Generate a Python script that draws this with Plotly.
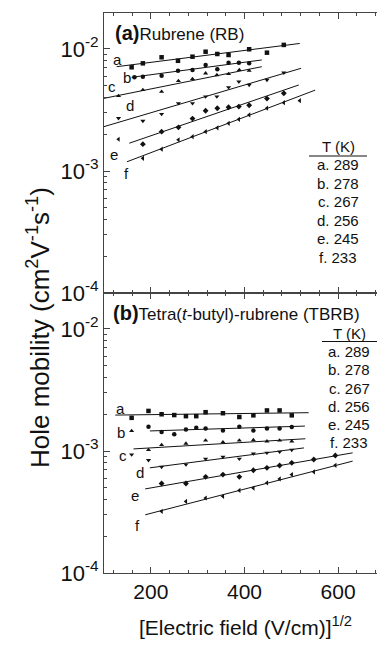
import plotly.graph_objects as go

# ---------------- data ----------------
# Panel (a) Rubrene (RB)
rb_a_x = [159, 183, 223, 258, 289, 317, 342, 366, 410, 448, 484]
rb_a_y = [7.08e-3, 7.63e-3, 8.55e-3, 8.0e-3, 8.65e-3, 9.5e-3, 9.1e-3, 8.93e-3, 9.95e-3, 9.33e-3, 1.08e-2]
rb_b_x = [165, 183, 223, 258, 289, 317, 342, 366, 388, 410]
rb_b_y = [5.86e-3, 5.93e-3, 6.04e-3, 6.64e-3, 6.73e-3, 7.4e-3, 6.82e-3, 7.73e-3, 7.73e-3, 7.64e-3]
rb_c_x = [131, 183, 223, 259, 289, 317, 341, 366, 389, 410]
rb_c_y = [4.12e-3, 4.62e-3, 4.47e-3, 5.47e-3, 5.68e-3, 6.32e-3, 6.12e-3, 6.24e-3, 6.73e-3, 6.64e-3]
rb_d_x = [131, 183, 223, 259, 289, 317, 341, 366, 388, 410, 448, 484]
rb_d_y = [2.71e-3, 2.57e-3, 2.93e-3, 3.59e-3, 3.59e-3, 4.07e-3, 4.07e-3, 4.85e-3, 5.4e-3, 5.07e-3, 5.57e-3, 6.39e-3]
rb_e_x = [183, 223, 259, 289, 317, 342, 366, 388, 410, 448, 484]
rb_e_y = [1.66e-3, 2.1e-3, 2.28e-3, 2.69e-3, 3.12e-3, 3.27e-3, 3.33e-3, 3.37e-3, 3.46e-3, 3.92e-3, 4.34e-3]
rb_f_x = [131, 183, 223, 259, 289, 317, 342, 366, 388, 410, 448, 484, 518]
rb_f_y = [1.82e-3, 1.27e-3, 1.51e-3, 1.80e-3, 1.91e-3, 2.10e-3, 2.26e-3, 2.46e-3, 2.65e-3, 2.88e-3, 3.27e-3, 3.63e-3, 3.77e-3]

# fitted lines (endpoints)
rb_fit_x = [[127, 518], [159, 437], [100, 437], [100, 521], [154, 516], [149, 551]]
rb_fit_y = [[7.16e-3, 1.11e-2], [5.86e-3, 8.13e-3], [3.94e-3, 7.16e-3], [2.31e-3, 6.95e-3], [1.69e-3, 5.07e-3], [1.19e-3, 4.60e-3]]

# Panel (b) Tetra(t-butyl)-rubrene (TBRB)
tb_a_x = [159, 195, 223, 250, 275, 297, 317, 354, 389, 419, 448, 475, 501]
tb_a_y = [1.87e-3, 2.13e-3, 2.0e-3, 1.97e-3, 1.93e-3, 1.93e-3, 2.08e-3, 2.04e-3, 1.90e-3, 1.96e-3, 2.15e-3, 2.15e-3, 1.96e-3]
tb_b_x = [195, 223, 250, 275, 297, 317, 354, 389, 419, 448, 475, 501]
tb_b_y = [1.58e-3, 1.43e-3, 1.37e-3, 1.50e-3, 1.55e-3, 1.53e-3, 1.47e-3, 1.58e-3, 1.47e-3, 1.53e-3, 1.53e-3, 1.57e-3]
tb_c_x = [159, 195, 223, 275, 317, 354, 389, 419, 448, 475, 501]
tb_c_y = [1.46e-3, 1.02e-3, 1.12e-3, 1.15e-3, 1.22e-3, 1.18e-3, 1.22e-3, 1.23e-3, 1.20e-3, 1.22e-3, 1.20e-3]
tb_d_x = [159, 195, 223, 275, 317, 354, 389, 419, 448, 475, 501]
tb_d_y = [9.35e-4, 8.4e-4, 7.41e-4, 7.74e-4, 8.63e-4, 8.96e-4, 8.63e-4, 9.53e-4, 9.66e-4, 9.85e-4, 1.02e-3]
tb_e_x = [223, 275, 317, 354, 389, 419, 448, 475, 501, 548, 594]
tb_e_y = [5.41e-4, 5.41e-4, 6.14e-4, 6.41e-4, 6.14e-4, 6.95e-4, 7.28e-4, 7.6e-4, 8.0e-4, 8.51e-4, 9.18e-4]
tb_f_x = [223, 275, 317, 354, 389, 419, 448, 475, 501, 548, 594]
tb_f_y = [3.2e-4, 3.86e-4, 4.12e-4, 4.25e-4, 4.75e-4, 4.97e-4, 5.47e-4, 5.9e-4, 6.41e-4, 6.75e-4, 7.63e-4]

tb_fit_x = [[124, 537], [198, 529], [163, 530], [198, 527], [188, 631], [188, 631]]
tb_fit_y = [[1.97e-3, 2.06e-3], [1.46e-3, 1.60e-3], [1.04e-3, 1.26e-3], [7.28e-4, 1.06e-3], [4.89e-4, 9.66e-4], [3.0e-4, 8.26e-4]]

series_letters = ["a", "b", "c", "d", "e", "f"]
temperatures = ["289", "278", "267", "256", "245", "233"]
symbols = ["square", "circle", "triangle-up", "triangle-down", "diamond", "triangle-left"]

x_ticks = [200, 400, 600]
y_ticks = [1e-4, 1e-3, 1e-2]
y_tick_text = ["10<sup>-4</sup>", "10<sup>-3</sup>", "10<sup>-2</sup>"]

# ---------------- figure ----------------
W, H = 377, 645
L, R, T, B = 104, 0, 13, 72
PW, PH = W - L - R, H - T - B

def px(x):
    return (x - L) / PW

def py(y):
    return (H - B - y) / PH

FONT = "Liberation Sans, Arial, sans-serif"
INK = "#111111"

fig = go.Figure()

rb = [(rb_a_x, rb_a_y), (rb_b_x, rb_b_y), (rb_c_x, rb_c_y), (rb_d_x, rb_d_y), (rb_e_x, rb_e_y), (rb_f_x, rb_f_y)]
tb = [(tb_a_x, tb_a_y), (tb_b_x, tb_b_y), (tb_c_x, tb_c_y), (tb_d_x, tb_d_y), (tb_e_x, tb_e_y), (tb_f_x, tb_f_y)]

MS = 4.5
for i, (xs, ys) in enumerate(rb):
    fig.add_trace(go.Scatter(x=rb_fit_x[i], y=rb_fit_y[i], mode="lines",
                             line=dict(color=INK, width=1), xaxis="x", yaxis="y", showlegend=False))
    fig.add_trace(go.Scatter(x=xs, y=ys, mode="markers",
                             marker=dict(symbol=symbols[i], size=MS, color=INK),
                             xaxis="x", yaxis="y", showlegend=False))
for i, (xs, ys) in enumerate(tb):
    fig.add_trace(go.Scatter(x=tb_fit_x[i], y=tb_fit_y[i], mode="lines",
                             line=dict(color=INK, width=1), xaxis="x2", yaxis="y2", showlegend=False))
    fig.add_trace(go.Scatter(x=xs, y=ys, mode="markers",
                             marker=dict(symbol=symbols[i], size=MS, color=INK),
                             xaxis="x2", yaxis="y2", showlegend=False))

minor_y = [m * 10 ** e for e in (-4, -3, -2) for m in range(2, 10)]

def xaxis(show_labels, anchor):
    return dict(range=[100, 683], tickvals=x_ticks, ticktext=[str(v) for v in x_ticks] if show_labels else ["", "", ""],
                ticks="inside", ticklen=6, tickwidth=1, tickcolor="#444", showline=True, linecolor="#444",
                linewidth=1, mirror="ticks", showgrid=False, zeroline=False, anchor=anchor,
                tickfont=dict(family=FONT, size=21, color=INK),
                minor=dict(ticks="inside", ticklen=3, tick0=0, dtick=40, tickcolor="#444", showgrid=False))

def yaxis(domain, anchor):
    return dict(type="log", range=[-4, -1.705], domain=domain, tickvals=y_ticks, ticktext=y_tick_text,
                ticks="inside", ticklen=6, tickwidth=1, tickcolor="#444", showline=True, linecolor="#444",
                linewidth=1, showgrid=False, zeroline=False, anchor=anchor,
                tickfont=dict(family=FONT, size=22, color=INK),
                minor=dict(ticks="inside", ticklen=3, tickvals=minor_y, tickcolor="#444", showgrid=False))

fig.update_layout(
    width=W, height=H, margin=dict(l=L, r=R, t=T, b=B),
    paper_bgcolor="white", plot_bgcolor="white",
    xaxis=xaxis(False, "y"), yaxis=yaxis([0.5, 1.0], "x"),
    xaxis2=xaxis(True, "y2"), yaxis2=yaxis([0.0, 0.5], "x2"),
    font=dict(family=FONT, color=INK),
)

ann = []

def add_text(x, y, text, size, xanchor="center", angle=0):
    ann.append(dict(x=px(x), y=py(y), xref="paper", yref="paper", xanchor=xanchor, yanchor="middle",
                    text=text, showarrow=False, textangle=angle,
                    font=dict(family=FONT, size=size, color=INK)))

# panel titles
add_text(113, 33, "<b><span style='font-size:20px'>(a)</span></b>Rubrene (RB)", 17, xanchor="left")
add_text(111, 313, "<b><span style='font-size:20px'>(b)</span></b>Tetra(<i>t</i>-butyl)-rubrene (TBRB)", 17, xanchor="left")

# curve letters
rb_lbl = [(117, 59), (127, 77), (112, 87), (130, 106), (114, 154), (126, 173)]
tb_lbl = [(120, 409), (121, 432), (123, 455), (140, 472), (135, 495), (137, 525)]
for i, (lx, ly) in enumerate(rb_lbl):
    add_text(lx, ly, series_letters[i], 15)
for i, (lx, ly) in enumerate(tb_lbl):
    add_text(lx, ly, series_letters[i], 15)

# temperature tables
def table(cx, head_y, line_y, x0, x1, first_y, step):
    add_text(cx, head_y, "T (K)", 15)
    fig.add_shape(type="line", xref="paper", yref="paper", x0=px(x0), x1=px(x1), y0=py(line_y), y1=py(line_y),
                  line=dict(color=INK, width=1.2))
    for i, t in enumerate(temperatures):
        add_text(cx, first_y + i * step, f"{series_letters[i]}. {t}", 15)

table(338, 146, 156, 309, 367, 164.5, 18.5)
table(349, 333, 341.5, 322, 377, 351.5, 18.3)

# axis titles
add_text(38, 328, "Hole mobility (cm<sup>2</sup>V<sup>-1</sup>s<sup>-1</sup>)", 26, angle=-90)
add_text(245, 626, "[Electric field (V/cm)]<sup>1/2</sup>", 21)

fig.update_layout(annotations=ann)
fig.write_html("out.html")
